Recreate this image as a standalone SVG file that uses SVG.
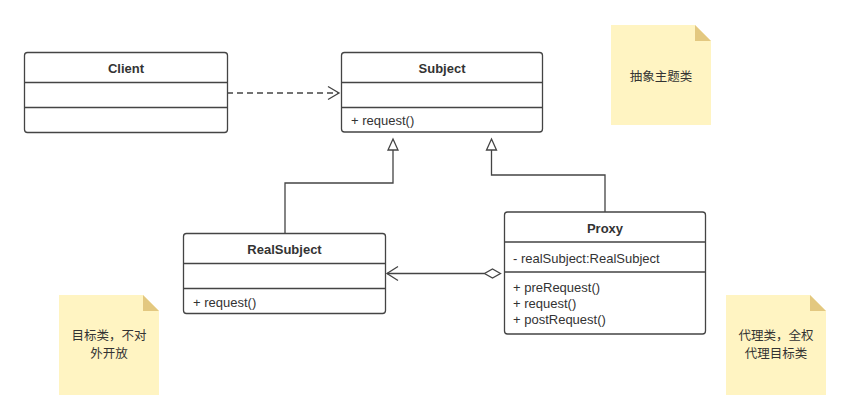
<svg xmlns="http://www.w3.org/2000/svg" width="851" height="420" viewBox="0 0 851 420">
<style>
.box{fill:#ffffff;stroke:#444444;stroke-width:1.3}
.sep{stroke:#444444;stroke-width:1.3;fill:none}
.title{font-family:"Liberation Sans",Arial,sans-serif;font-size:13px;font-weight:bold;fill:#333333;text-anchor:middle}
.mem{font-family:"Liberation Sans",Arial,sans-serif;font-size:13px;fill:#333333}
.conn{stroke:#444444;stroke-width:1.3;fill:none}
.note{fill:#fff4c2}
.fold{fill:#e3c880}
.ntext{font-family:"Noto Sans CJK SC","Noto Sans",sans-serif;font-size:12.5px;fill:#333333;text-anchor:middle}
</style>
<rect width="851" height="420" fill="#ffffff"/>
<g id="connectors">
  <path class="conn" d="M227,93 H338" stroke-dasharray="6,4"/>
  <path class="conn" d="M328,86.5 L339,93 L328,99.5"/>
  <path class="conn" d="M393,150 V183 H285 V233"/>
  <path class="box" d="M393,139 L398,150 H388 Z"/>
  <path class="conn" d="M491.5,150 V175 H605 V212"/>
  <path class="box" d="M491.5,139 L496.5,150 H486.5 Z"/>
  <path class="conn" d="M387,273.5 H446"/>
  <path class="conn" d="M446,273.5 H484.5" stroke-width="1.8"/>
  <path class="conn" d="M398,266.5 L387,273.5 L398,280.5"/>
  <path class="box" d="M500.5,273.5 L492.5,269 L484.5,273.5 L492.5,278 Z"/>
</g>
<g id="client">
  <rect class="box" x="24.5" y="52.5" width="203" height="80" rx="3"/>
  <path class="sep" d="M24.5,82.5 H227.5 M24.5,107.5 H227.5"/>
  <text class="title" x="126" y="73">Client</text>
</g>
<g id="subject">
  <rect class="box" x="341.5" y="52.5" width="201" height="79.5" rx="3"/>
  <path class="sep" d="M341.5,82.5 H542.5 M341.5,107.5 H542.5"/>
  <text class="title" x="442" y="73">Subject</text>
  <text class="mem" x="351" y="125">+ request()</text>
</g>
<g id="realsubject">
  <rect class="box" x="183.5" y="233.5" width="202" height="80" rx="3"/>
  <path class="sep" d="M183.5,263.5 H385.5 M183.5,288.5 H385.5"/>
  <text class="title" x="284.5" y="254">RealSubject</text>
  <text class="mem" x="193" y="306.5">+ request()</text>
</g>
<g id="proxy">
  <rect class="box" x="504.5" y="212" width="201" height="122" rx="3"/>
  <path class="sep" d="M504.5,242 H705.5 M504.5,272 H705.5"/>
  <text class="title" x="605" y="232.5">Proxy</text>
  <text class="mem" x="513" y="262.5">- realSubject:RealSubject</text>
  <text class="mem" x="513" y="291.5">+ preRequest()</text>
  <text class="mem" x="513" y="307.5">+ request()</text>
  <text class="mem" x="513" y="324">+ postRequest()</text>
</g>
<g id="note-subject">
  <path class="note" d="M611,25 H695 L711,41 V125 H611 Z"/>
  <path class="fold" d="M695,25 L711,41 H695 Z"/>
  <text class="ntext" x="661" y="81">抽象主题类</text>
</g>
<g id="note-realsubject">
  <path class="note" d="M59,295 H143 L159,311 V395 H59 Z"/>
  <path class="fold" d="M143,295 L159,311 H143 Z"/>
  <text class="ntext" x="109" y="340">目标类，不对</text>
  <text class="ntext" x="109" y="358">外开放</text>
</g>
<g id="note-proxy">
  <path class="note" d="M726,295 H810 L826,311 V395 H726 Z"/>
  <path class="fold" d="M810,295 L826,311 H810 Z"/>
  <text class="ntext" x="776" y="340">代理类，全权</text>
  <text class="ntext" x="776" y="358">代理目标类</text>
</g>
</svg>
